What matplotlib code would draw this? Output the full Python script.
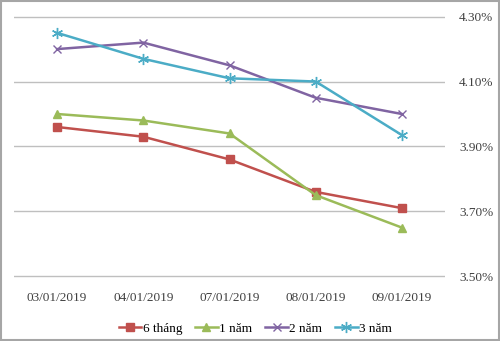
import matplotlib.pyplot as plt
from matplotlib.patches import Rectangle
from matplotlib.ticker import FuncFormatter

# ==========================================================
#   Datos
# ==========================================================

fechas = ["03/01/2019", "04/01/2019", "07/01/2019", "08/01/2019", "09/01/2019"]

lai_6_thang = [3.96, 3.93, 3.86, 3.76, 3.71]
lai_1_nam = [4.00, 3.98, 3.94, 3.75, 3.65]
lai_2_nam = [4.20, 4.22, 4.15, 4.05, 4.00]
lai_3_nam = [4.25, 4.17, 4.11, 4.10, 3.935]

plt.rcParams["font.family"] = ["Liberation Serif", "DejaVu Serif"]

fig = plt.figure(figsize=(5, 3.41), dpi=100)
ax = fig.add_axes([0.028, 0.185, 0.862, 0.771])

x = range(len(fechas))
ax.plot(x, lai_6_thang, color="#C0504D", marker="s", markersize=6, lw=1.8, label="6 tháng")
ax.plot(x, lai_1_nam, color="#9BBB59", marker="^", markersize=6, lw=1.8, label="1 năm")
ax.plot(x, lai_2_nam, color="#8064A2", marker="x", markersize=6, mew=1, lw=1.8, label="2 năm")
ax.plot(x, lai_3_nam, color="#4BACC6", marker=(6, 2, 0), markersize=8, mew=1, lw=1.8, label="3 năm")

ax.set_xlim(-0.5, len(fechas) - 0.5)
ax.set_ylim(3.495, 4.305)
ax.set_yticks([3.50, 3.70, 3.90, 4.10, 4.30])
ax.yaxis.set_major_formatter(FuncFormatter(lambda v, p: f"{v:.2f}%"))
ax.yaxis.tick_right()
ax.set_xticks(list(x))
ax.set_xticklabels(fechas)
ax.tick_params(axis="both", length=0, labelsize=9.5, colors="#404040")
ax.tick_params(axis="y", pad=10)
ax.tick_params(axis="x", pad=10)
ax.grid(axis="y", color="#BFBFBF", lw=1)
ax.set_axisbelow(True)
for s in ax.spines.values():
    s.set_visible(False)

ax.legend(loc="upper center", bbox_to_anchor=(0.56, -0.125), ncol=4, frameon=False,
          fontsize=9.5, handlelength=1.7, columnspacing=1.0, handletextpad=0.1)

fig.patches.append(Rectangle((0.002, 0.003), 0.995, 0.994, transform=fig.transFigure,
                             fill=False, edgecolor="#A6A6A6", lw=1.5))

plt.savefig("out.png", dpi=100)
plt.close()
